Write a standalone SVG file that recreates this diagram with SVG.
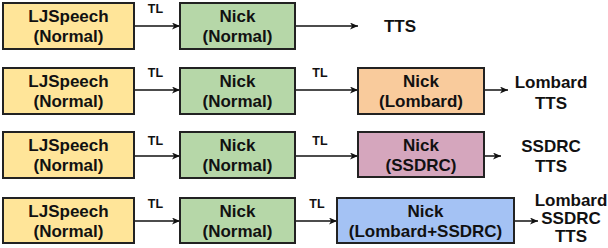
<svg xmlns="http://www.w3.org/2000/svg" width="608" height="248" viewBox="0 0 608 248">
<style>
.box{stroke:#222;stroke-width:2}
.lj{fill:#FFE599}
.nn{fill:#B6D7A8}
.lo{fill:#F9CB9C}
.ss{fill:#D5A6BD}
.ls{fill:#A4C2F4}
text{font-family:"Liberation Sans",Arial,sans-serif;font-weight:bold;fill:#111}
.t{font-size:17px;text-anchor:middle}
.tl{font-size:12.5px;text-anchor:middle}
.c{stroke:#111;stroke-width:1.5;fill:none;marker-end:url(#ah)}
</style>
<defs>
<marker id="ah" markerUnits="userSpaceOnUse" markerWidth="10" markerHeight="8" refX="8" refY="3.5" orient="auto">
<path d="M0,0 L8,3.5 L0,7 L2.2,3.5 z" fill="#111"/>
</marker>
</defs>
<g id="connectors">
<line class="c" x1="134" y1="26" x2="180" y2="26"/>
<line class="c" x1="295" y1="26" x2="358" y2="26"/>
<line class="c" x1="134" y1="90" x2="180" y2="90"/>
<line class="c" x1="295" y1="90" x2="358" y2="90"/>
<line class="c" x1="484" y1="90" x2="508" y2="90"/>
<line class="c" x1="134" y1="156" x2="180" y2="156"/>
<line class="c" x1="295" y1="156" x2="358" y2="156"/>
<line class="c" x1="484" y1="156" x2="501" y2="156"/>
<line class="c" x1="134" y1="221" x2="180" y2="221"/>
<line class="c" x1="295" y1="221" x2="337" y2="221"/>
<line class="c" x1="514" y1="221" x2="538" y2="221"/>
<text class="tl" x="155.5" y="13">TL</text>
<text class="tl" x="155.5" y="77">TL</text>
<text class="tl" x="320" y="77">TL</text>
<text class="tl" x="155.5" y="145">TL</text>
<text class="tl" x="320" y="145">TL</text>
<text class="tl" x="155.5" y="208">TL</text>
<text class="tl" x="317" y="208">TL</text>
</g>
<g id="lj1"><rect class="box lj" x="3" y="3" width="131" height="46"/><text class="t" x="68.5" y="22">LJSpeech</text><text class="t" x="68.5" y="42">(Normal)</text></g>
<g id="nick1"><rect class="box nn" x="180" y="3" width="115" height="46"/><text class="t" x="237.5" y="22">Nick</text><text class="t" x="237.5" y="42">(Normal)</text></g>
<g id="out1"><text class="t" x="400" y="32">TTS</text></g>

<g id="lj2"><rect class="box lj" x="3" y="68" width="131" height="46"/><text class="t" x="68.5" y="87">LJSpeech</text><text class="t" x="68.5" y="107">(Normal)</text></g>
<g id="nick2"><rect class="box nn" x="180" y="68" width="115" height="46"/><text class="t" x="237.5" y="87">Nick</text><text class="t" x="237.5" y="107">(Normal)</text></g>
<g id="nickLombard"><rect class="box lo" x="358" y="68" width="126" height="46"/><text class="t" x="421" y="87">Nick</text><text class="t" x="421" y="107">(Lombard)</text></g>
<g id="out2"><text class="t" x="551" y="88">Lombard</text><text class="t" x="551" y="109">TTS</text></g>

<g id="lj3"><rect class="box lj" x="3" y="132" width="131" height="46"/><text class="t" x="68.5" y="151">LJSpeech</text><text class="t" x="68.5" y="171">(Normal)</text></g>
<g id="nick3"><rect class="box nn" x="180" y="132" width="115" height="46"/><text class="t" x="237.5" y="151">Nick</text><text class="t" x="237.5" y="171">(Normal)</text></g>
<g id="nickSSDRC"><rect class="box ss" x="358" y="132" width="126" height="45"/><text class="t" x="421" y="151">Nick</text><text class="t" x="421" y="171">(SSDRC)</text></g>
<g id="out3"><text class="t" x="551" y="152">SSDRC</text><text class="t" x="551" y="172">TTS</text></g>

<g id="lj4"><rect class="box lj" x="3" y="198" width="131" height="45"/><text class="t" x="68.5" y="217">LJSpeech</text><text class="t" x="68.5" y="237">(Normal)</text></g>
<g id="nick4"><rect class="box nn" x="180" y="198" width="115" height="45"/><text class="t" x="237.5" y="217">Nick</text><text class="t" x="237.5" y="237">(Normal)</text></g>
<g id="nickLS"><rect class="box ls" x="337" y="198" width="177" height="45"/><text class="t" x="425.5" y="217">Nick</text><text class="t" x="425.5" y="237">(Lombard+SSDRC)</text></g>
<g id="out4"><text class="t" x="571" y="206">Lombard</text><text class="t" x="571" y="224">SSDRC</text><text class="t" x="571" y="242">TTS</text></g>
</svg>
